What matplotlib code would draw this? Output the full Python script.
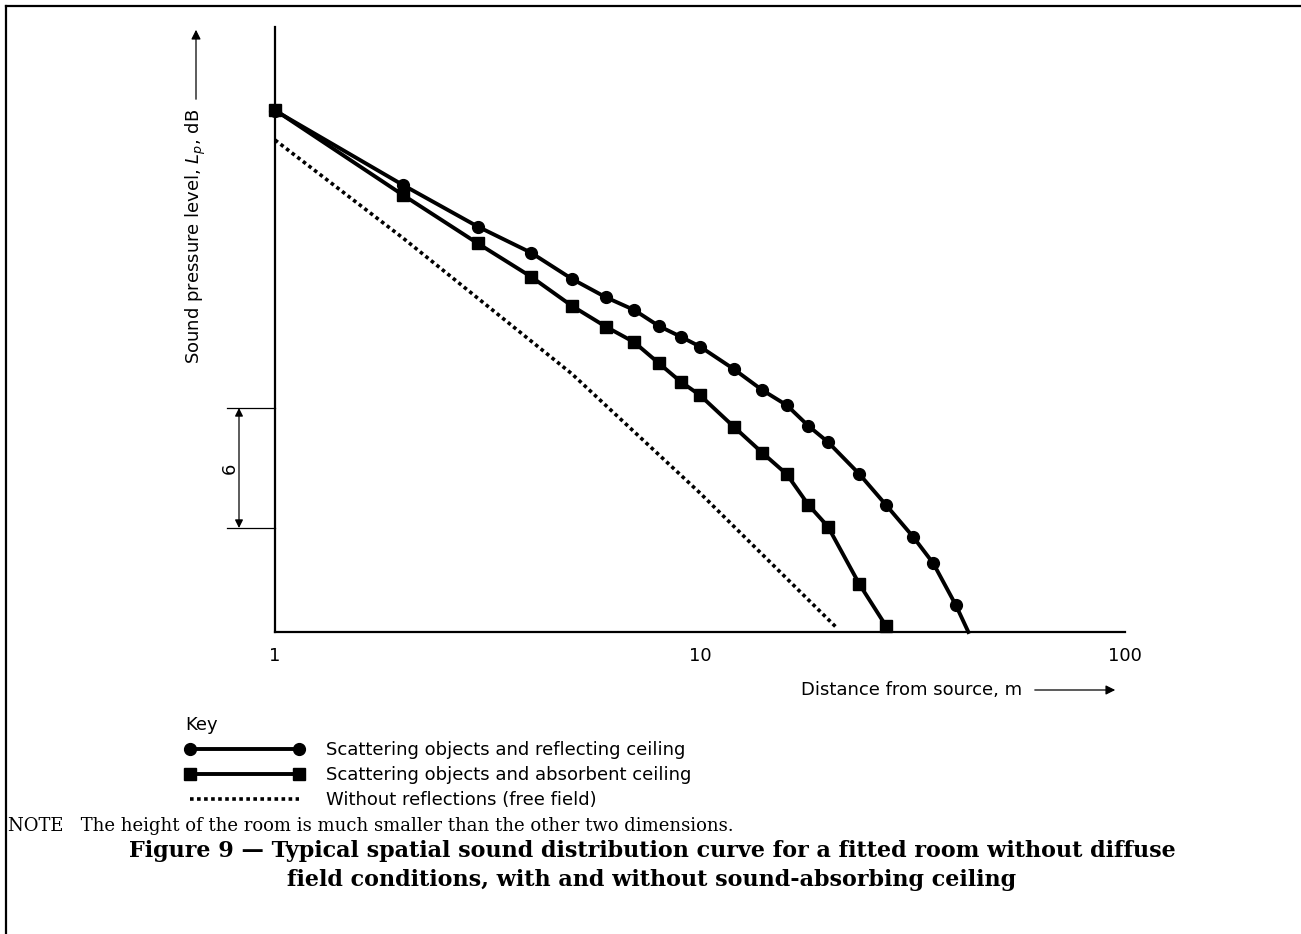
import matplotlib
matplotlib.use("Agg")
import matplotlib.pyplot as plt
from matplotlib.lines import Line2D

# ---------------- data ----------------
dist_reflect = [1, 2, 3, 4, 5, 6, 7, 8, 9, 10, 12, 14, 16, 18, 20, 23.7, 27.4, 31.7, 35.4, 40, 42.8]
lp_reflect = [26.07, 22.35, 20.27, 18.97, 17.65, 16.74, 16.1, 15.3, 14.77, 14.27,
              13.15, 12.1, 11.34, 10.3, 9.5, 7.9, 6.35, 4.77, 3.43, 1.34, 0.0]

dist_absorb = [1, 2, 3, 4, 5, 6, 7, 8, 9, 10, 12, 14, 16, 18, 20, 23.7, 27.4]
lp_absorb = [26.1, 21.85, 19.43, 17.77, 16.3, 15.27, 14.49, 13.44, 12.52, 11.84,
             10.27, 8.97, 7.89, 6.35, 5.27, 2.4, 0.3]

dist_free = [1, 2, 5, 10, 21]
lp_free = [24.6, 19.7, 12.9, 6.95, 0.2]

x_ticks = [1, 10, 100]
x_tick_labels = ["1", "10", "100"]

bracket_low = 5.2
bracket_span = 6

labels = ["Scattering objects and reflecting ceiling",
          "Scattering objects and absorbent ceiling",
          "Without reflections (free field)"]

SANS = ["DejaVu Sans"]
SERIF = ["DejaVu Serif"]

W, H = 1301, 934
fig = plt.figure(figsize=(W / 100, H / 100), dpi=100)
fig.patch.set_facecolor("white")

def fx(px):
    return px / W

def fy(py):
    return 1 - py / H

ax = fig.add_axes([fx(275), fy(632), fx(1125) - fx(275), fy(27) - fy(632)])
ax.set_xscale("log")
ax.set_xlim(1, 100)
ax.set_ylim(0, 30.25)

l1, = ax.plot(dist_reflect, lp_reflect, color="black", lw=2.8, marker="o", ms=8.5,
              markevery=slice(0, len(dist_reflect) - 1), clip_on=False, zorder=3)
l2, = ax.plot(dist_absorb, lp_absorb, color="black", lw=2.8, marker="s", ms=8.5,
              clip_on=False, zorder=3)
l3, = ax.plot(dist_free, lp_free, color="black", lw=2.6, ls=(0, (1, 0.95)),
              dash_capstyle="butt", clip_on=False, zorder=3)

for side in ["top", "right"]:
    ax.spines[side].set_visible(False)
for side in ["left", "bottom"]:
    ax.spines[side].set_linewidth(1.6)

ax.set_xticks(x_ticks)
ax.set_xticklabels(x_tick_labels, fontfamily=SANS, fontsize=13)
ax.xaxis.set_minor_locator(matplotlib.ticker.NullLocator())
ax.tick_params(axis="x", length=0, pad=11)
ax.set_yticks([])

# 6 dB bracket
trans = matplotlib.transforms.blended_transform_factory(ax.transAxes, ax.transData)
for yv in [bracket_low, bracket_low + bracket_span]:
    ax.plot([-48 / 850, 0], [yv, yv], color="black", lw=0.9, transform=trans, clip_on=False)
ax.annotate("", xy=(-36 / 850, bracket_low), xytext=(-36 / 850, bracket_low + bracket_span),
            xycoords=trans, textcoords=trans,
            arrowprops=dict(arrowstyle="<|-|>", color="black", lw=0.9,
                            mutation_scale=12, shrinkA=0, shrinkB=0))
ax.text(-45 / 850, bracket_low + bracket_span / 2, "6", transform=trans, rotation=90,
        ha="center", va="center", fontsize=13, fontfamily=SANS)

# y label + arrow
fig.text(fx(196), fy(236), r"Sound pressure level, $L_p$, dB", rotation=90,
         ha="center", va="center", fontsize=13, fontfamily=SANS)
fig.add_artist(matplotlib.patches.FancyArrowPatch(
    (fx(196), fy(102)), (fx(196), fy(27)), transform=fig.transFigure,
    arrowstyle="-|>", mutation_scale=14, color="black", lw=0.9))

# x label + arrow
fig.text(fx(1022), fy(690), "Distance from source, m", ha="right", va="center",
         fontsize=13, fontfamily=SANS)
fig.add_artist(matplotlib.patches.FancyArrowPatch(
    (fx(1032), fy(690)), (fx(1118), fy(690)), transform=fig.transFigure,
    arrowstyle="-|>", mutation_scale=14, color="black", lw=0.9))

# legend
leg = fig.legend([l1, l2, l3], labels, loc="upper left",
                 bbox_to_anchor=(fx(185), fy(716)), frameon=False, numpoints=2,
                 prop=dict(family=SANS, size=13), title="Key",
                 title_fontproperties=dict(family=SANS, size=13),
                 alignment="left", handlelength=6.6, handletextpad=1.2,
                 labelspacing=0.39, borderpad=0, borderaxespad=0)

# note and caption
fig.text(fx(8), fy(826), "NOTE   The height of the room is much smaller than the other two dimensions.",
         ha="left", va="center", fontsize=13, fontfamily=SERIF)
fig.text(fx(652), fy(851), "Figure 9 \u2014 Typical spatial sound distribution curve for a fitted room without diffuse",
         ha="center", va="center", fontsize=16, fontweight="bold", fontfamily=SERIF)
fig.text(fx(652), fy(880), "field conditions, with and without sound-absorbing ceiling",
         ha="center", va="center", fontsize=16, fontweight="bold", fontfamily=SERIF)

# frame (top and left)
fig.add_artist(Line2D([fx(6), 1], [fy(6), fy(6)], transform=fig.transFigure, color="black", lw=1.6))
fig.add_artist(Line2D([fx(6), fx(6)], [fy(6), 0], transform=fig.transFigure, color="black", lw=1.6))

fig.savefig("out.png", dpi=100)
